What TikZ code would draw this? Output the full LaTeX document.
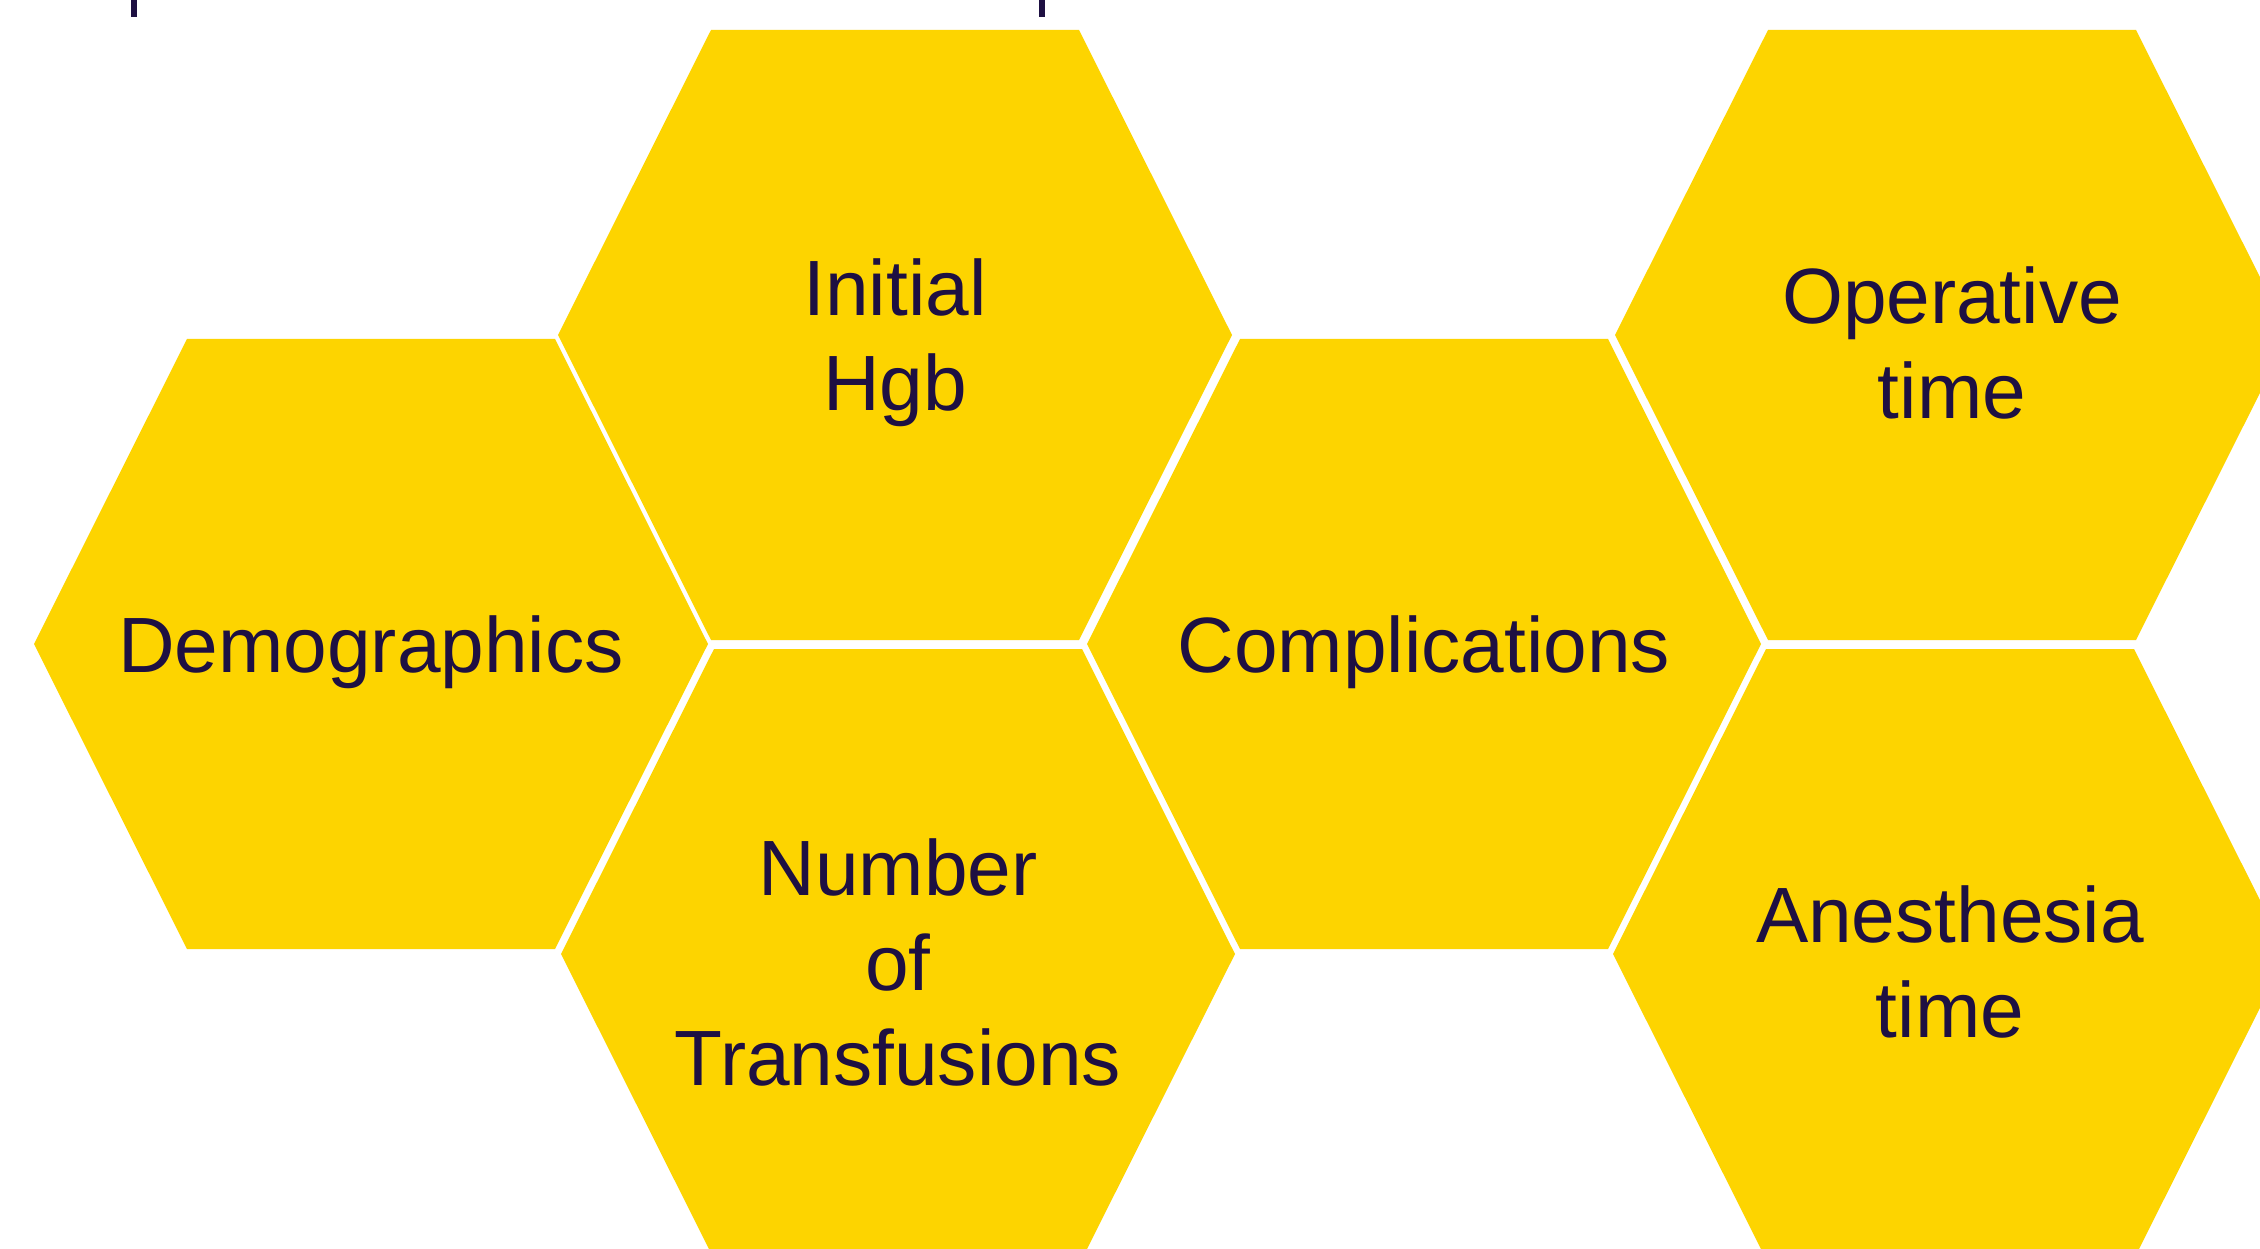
\documentclass[tikz,border=0pt]{standalone}
\usepackage{fontspec}
\setmainfont{Liberation Sans}
\usetikzlibrary{positioning}
\definecolor{honey}{RGB}{253,212,0}
\definecolor{ink}{RGB}{30,16,66}
\tikzset{hexcell/.style={fill=honey}}
\tikzset{hextext/.style={text=ink, align=center, font=\fontsize{22.3}{27}\selectfont}}
\begin{document}
\begin{tikzpicture}[x=0.01cm, y=-0.01cm]
    \useasboundingbox (0,0) rectangle (2260,1249);
    \fill[white] (0,0) rectangle (2260,1249);
    \clip (0,0) rectangle (2260,1249);
    % honeycomb cells
    \foreach \cx/\cy/\name/\txt in {
        371/644/demo/{Demographics},
        895/335/hgb/{Initial\\Hgb},
        898/954/transf/{Number\\of\\Transfusions},
        1424/644/compl/{Complications},
        1952/335/optime/{Operative\\time},
        1950/954/antime/{Anesthesia\\time}}{
        \fill[hexcell, shift={(\cx,\cy)}] (-337,0) -- (-184,-305) -- (184,-305)
            -- (337,0) -- (184,305) -- (-184,305) -- cycle;
        \node[hextext, yshift=-2.3pt] (\name) at (\cx,\cy) {\txt};
    }
    % cut-off title at the top edge
    \draw[ink, line width=1.5pt] (134,0) -- (134,17);
    \draw[ink, line width=1.5pt] (1042,0) -- (1042,17);
\end{tikzpicture}
\end{document}
